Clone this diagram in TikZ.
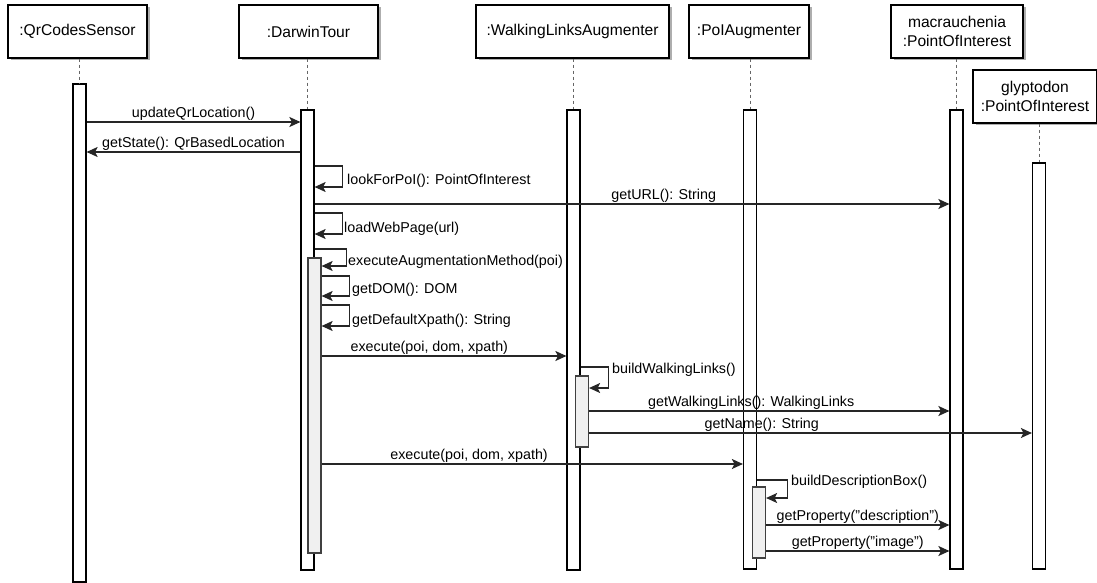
\documentclass[tikz,border=0pt]{standalone}
\usepackage{fontspec}
\setmainfont{Liberation Sans}
\usetikzlibrary{arrows.meta,shadows}

\begin{document}
\begin{tikzpicture}[x=1pt,y=-1pt,
	object/.style={draw,line width=1.2pt,fill=white,minimum height=53pt,inner sep=0pt,align=center,font=\fontsize{15.6}{19.5}\selectfont,drop shadow={shadow xshift=2.5pt,shadow yshift=-2.5pt,fill=black!45,opacity=0.7}},
	bar/.style={draw,line width=1.2pt,fill=white,minimum width=13pt,inner sep=0pt},
	subbar/.style={bar,draw=black!75,fill=black!6},
	lifeline/.style={draw=black!60,line width=1pt,dash pattern=on 3pt off 3pt},
	msg/.style={draw=black!85,line width=1.2pt,-{Stealth[length=11pt,width=10pt,inset=2.5pt]}},
	lbl/.style={font=\fontsize{14.3}{16}\selectfont,inner sep=1pt}]

	\path[fill=white,use as bounding box] (0,0) rectangle (1097,583);

	\node[object,minimum width=139pt] (qrs) at (77.5,31.5) {:QrCodesSensor};

	\node[object,minimum width=139pt] (tour) at (308.5,31.5) {:DarwinTour};

	\node[object,minimum width=193pt] (wla) at (572.5,31.5) {:WalkingLinksAugmenter};

	\node[object,minimum width=120pt] (poia) at (749,31.5) {:PoIAugmenter};

	\node[object,minimum width=132pt] (mac) at (957,31.5) {macrauchenia\\:PointOfInterest};

	\node[object,minimum width=124pt] (gly) at (1035,96.5) {glyptodon\\:PointOfInterest};

	\node[bar,minimum height=498pt] (qrsBar) at (79.5,333) {};

	\node[bar,minimum height=460pt] (tourBar) at (307.5,340) {};

	\node[subbar,minimum height=295pt] (tourExec) at (314.5,405.5) {};

	\node[bar,minimum height=460pt] (wlaBar) at (573.5,340) {};

	\node[subbar,minimum height=71pt] (wlaBuild) at (582,411.5) {};

	\node[bar,minimum height=459pt] (poiaBar) at (750,339.5) {};

	\node[subbar,minimum height=71pt] (poiaBuild) at (759,522.5) {};

	\node[bar,minimum height=459pt] (macBar) at (956.5,339.5) {};

	\node[bar,minimum height=406pt] (glyBar) at (1039,366) {};

	\draw[lifeline] (qrs.south -| qrsBar.north) -- (qrsBar.north);
	\draw[lifeline] (tour.south -| tourBar.north) -- (tourBar.north);
	\draw[lifeline] (wla.south -| wlaBar.north) -- (wlaBar.north);
	\draw[lifeline] (poia.south -| poiaBar.north) -- (poiaBar.north);
	\draw[lifeline] (mac.south -| macBar.north) -- (macBar.north);
	\draw[lifeline] (gly.south -| glyBar.north) -- (glyBar.north);

	\draw[msg] (qrsBar.east |- 0,122) -- (tourBar.west |- 0,122) node[lbl,above,midway] {updateQrLocation()};

	\draw[msg] (tourBar.west |- 0,152) -- (qrsBar.east |- 0,152) node[lbl,above,midway] {getState(): QrBasedLocation};

	\draw[msg] (tourBar.east |- 0,166) -- ++(28,0) |- (tourBar.east |- 0,187);
	\node[lbl,anchor=west] (lookLbl) at (346,181) {lookForPoI(): PointOfInterest};

	\draw[msg] (tourBar.east |- 0,204) -- (macBar.west |- 0,204) node[lbl,above,pos=0.55] {getURL(): String};

	\draw[msg] (tourBar.east |- 0,213) -- ++(28,0) |- (tourBar.east |- 0,234);
	\node[lbl,anchor=west] (loadLbl) at (343,229) {loadWebPage(url)};

	\draw[msg] (tourBar.east |- 0,249) -- ++(32,0) |- (tourExec.east |- 0,266);
	\node[lbl,anchor=west] (augLbl) at (347,262) {executeAugmentationMethod(poi)};

	\draw[msg] (tourExec.east |- 0,276) -- ++(28,0) |- (tourExec.east |- 0,296);
	\node[lbl,anchor=west] (domLbl) at (351,290) {getDOM(): DOM};

	\draw[msg] (tourExec.east |- 0,305) -- ++(28,0) |- (tourExec.east |- 0,326);
	\node[lbl,anchor=west] (xpathLbl) at (351,321) {getDefaultXpath(): String};

	\draw[msg] (tourExec.east |- 0,356) -- (wlaBar.west |- 0,356) node[lbl,above,pos=0.44] {execute(poi, dom, xpath)};

	\draw[msg] (wlaBar.east |- 0,367) -- ++(28,0) |- (wlaBuild.east |- 0,388);
	\node[lbl,anchor=west] (walkLbl) at (611,370) {buildWalkingLinks()};

	\draw[msg] (wlaBuild.east |- 0,411) -- (macBar.west |- 0,411) node[lbl,above,pos=0.45] {getWalkingLinks(): WalkingLinks};

	\draw[msg] (wlaBuild.east |- 0,433) -- (glyBar.west |- 0,433) node[lbl,above,pos=0.39] {getName(): String};

	\draw[msg] (tourExec.east |- 0,464) -- (poiaBar.west |- 0,464) node[lbl,above,pos=0.35] {execute(poi, dom, xpath)};

	\draw[msg] (poiaBar.east |- 0,480) -- ++(30,0) |- (poiaBuild.east |- 0,498);
	\node[lbl,anchor=west] (descLbl) at (790,482) {buildDescriptionBox()};

	\draw[msg] (poiaBuild.east |- 0,525) -- (macBar.west |- 0,525) node[lbl,above,midway] {getProperty("description")};

	\draw[msg] (poiaBuild.east |- 0,551) -- (macBar.west |- 0,551) node[lbl,above,midway] {getProperty("image")};
\end{tikzpicture}
\end{document}
